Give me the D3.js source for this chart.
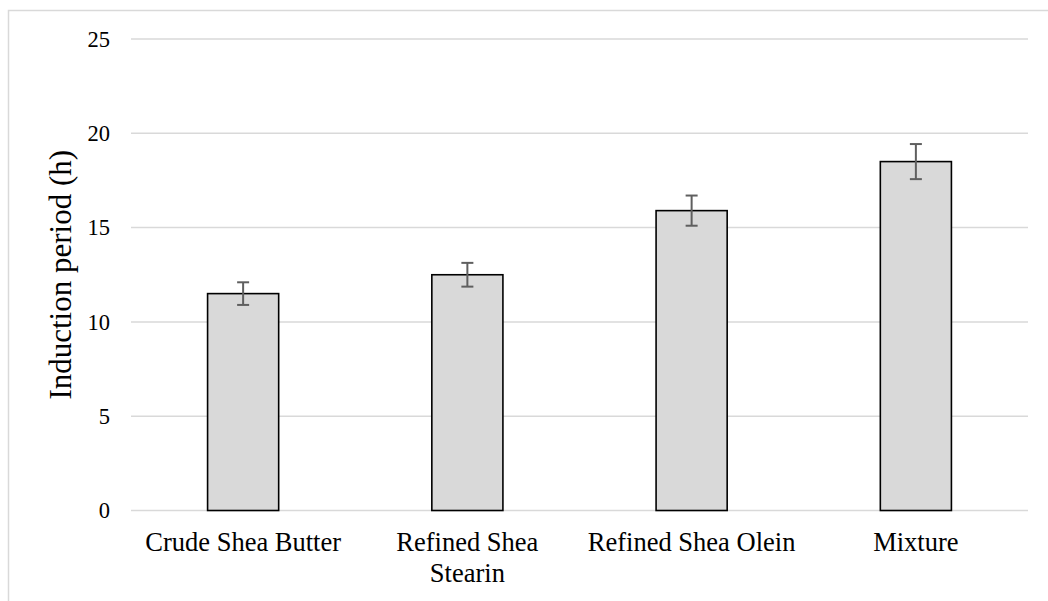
<!DOCTYPE html>
<html>
<head>
<meta charset="utf-8">
<script src="https://cdn.jsdelivr.net/npm/d3@7"></script>
<style>
  html, body { margin: 0; padding: 0; background: #fff; }
  svg { display: block; }
  text { font-family: "Liberation Serif", "Times New Roman", serif; fill: #000; }
</style>
</head>
<body>
<svg id="chart" width="1048" height="601"></svg>
<script>
const categories = ["Crude Shea Butter", "Refined Shea Stearin", "Refined Shea Olein", "Mixture"];
const values = [11.5, 12.5, 15.9, 18.5];
const errors = [0.6, 0.63, 0.8, 0.93];
const yTicks = [0, 5, 10, 15, 20, 25];
const yLabel = "Induction period (h)";

const svg = d3.select("#chart");

// outer chart-area border
svg.append("rect")
  .attr("x", 8.5).attr("y", 10.5)
  .attr("width", 1100).attr("height", 700)
  .attr("fill", "none").attr("stroke", "#d9d9d9").attr("stroke-width", 1.5);

const x = d3.scaleBand()
  .domain(categories)
  .range([131, 1028])
  .paddingInner(0.683)
  .paddingOuter(0.3415);

const y = d3.scaleLinear().domain([0, 25]).range([510.5, 39]);

// gridlines
svg.append("g").selectAll("line")
  .data(yTicks)
  .join("line")
  .attr("x1", 131).attr("x2", 1028)
  .attr("y1", d => y(d)).attr("y2", d => y(d))
  .attr("stroke", "#d9d9d9").attr("stroke-width", 1.5);

// y axis labels
const yAxis = d3.axisLeft(y).tickValues(yTicks).tickSize(0).tickPadding(0).tickFormat(d3.format("d"));
const gy = svg.append("g").attr("transform", "translate(110,0)").call(yAxis);
gy.select(".domain").remove();
gy.selectAll("text")
  .style("font-family", "'Liberation Serif', 'Times New Roman', serif")
  .style("font-size", "22.5px")
  .attr("fill", "#000");

// bars
svg.append("g").selectAll("rect")
  .data(values)
  .join("rect")
  .attr("x", (d, i) => x(categories[i]))
  .attr("y", d => y(d))
  .attr("width", x.bandwidth())
  .attr("height", d => y(0) - y(d))
  .attr("fill", "#d9d9d9")
  .attr("stroke", "#000")
  .attr("stroke-width", 1.6);

// error bars
const eg = svg.append("g").attr("stroke", "#5f5f5f").attr("stroke-width", 2);
values.forEach((v, i) => {
  const cx = x(categories[i]) + x.bandwidth() / 2;
  const top = y(v + errors[i]), bot = y(v - errors[i]);
  eg.append("line").attr("x1", cx).attr("x2", cx).attr("y1", top).attr("y2", bot);
  eg.append("line").attr("x1", cx - 6).attr("x2", cx + 6).attr("y1", top).attr("y2", top);
  eg.append("line").attr("x1", cx - 6).attr("x2", cx + 6).attr("y1", bot).attr("y2", bot);
});

// x axis labels
const xAxis = d3.axisBottom(x).tickSize(0).tickPadding(0);
const gx = svg.append("g").attr("transform", "translate(0,510.5)").call(xAxis);
gx.select(".domain").remove();
gx.selectAll("text")
  .style("font-family", "'Liberation Serif', 'Times New Roman', serif")
  .style("font-size", "26.5px")
  .attr("fill", "#000")
  .attr("dy", null)
  .attr("y", 40)
  .each(function(d) {
    const t = d3.select(this);
    const words = d.split(" ");
    t.text(null);
    let line = [];
    let lineNo = 0;
    let tspan = t.append("tspan").attr("x", 0).attr("y", 40);
    words.forEach(w => {
      line.push(w);
      tspan.text(line.join(" "));
      if (tspan.node().getComputedTextLength() > 215 && line.length > 1) {
        line.pop();
        tspan.text(line.join(" "));
        line = [w];
        lineNo++;
        tspan = t.append("tspan").attr("x", 0).attr("y", 40 + lineNo * 31.5).text(w);
      }
    });
  });

// y axis title
svg.append("text")
  .attr("transform", `translate(71,${(y(0) + y(25)) / 2}) rotate(-90)`)
  .attr("text-anchor", "middle")
  .style("font-size", "31px")
  .text(yLabel);
</script>
</body>
</html>
